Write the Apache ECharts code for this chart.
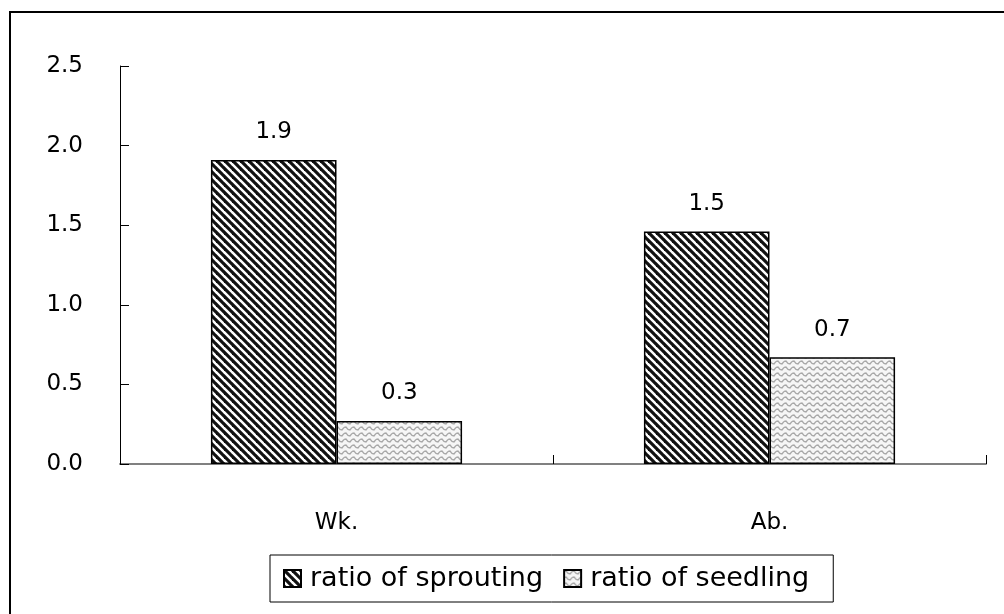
<!DOCTYPE html>
<html>
<head>
<meta charset="utf-8">
<script src="https://cdn.jsdelivr.net/npm/echarts@6/dist/echarts.min.js"></script>
<style>
html,body{margin:0;padding:0;background:#fff;}
#chart{width:1004px;height:614px;}
</style>
</head>
<body>
<div id="chart"></div>
<script>
const categories = ['Wk.', 'Ab.'];
const seriesNames = ['ratio of sprouting', 'ratio of seedling'];
const sprouting = [1.91, 1.46];
const seedling = [0.27, 0.67];
const yTicks = [0, 0.5, 1.0, 1.5, 2.0, 2.5];

function stripeTile() {
  const s = 8;
  const c = document.createElement('canvas');
  c.width = s; c.height = s;
  const g = c.getContext('2d');
  g.fillStyle = '#ffffff';
  g.fillRect(0, 0, s, s);
  g.strokeStyle = '#111111';
  g.lineWidth = 3.2;
  for (const off of [-s, 0, s]) {
    g.beginPath();
    g.moveTo(off - 2, -2);
    g.lineTo(off + s + 2, s + 2);
    g.stroke();
  }
  return c;
}
function waveTile() {
  const w = 8, h = 6;
  const c = document.createElement('canvas');
  c.width = w; c.height = h;
  const g = c.getContext('2d');
  g.fillStyle = '#f6f6f6';
  g.fillRect(0, 0, w, h);
  g.strokeStyle = '#a8a8a8';
  g.lineWidth = 1.3;
  g.beginPath();
  g.moveTo(0, 1.5);
  g.lineTo(2, 1);
  g.lineTo(4, 3.5);
  g.lineTo(6, 4);
  g.lineTo(8, 1.5);
  g.stroke();
  return c;
}

const chart = echarts.init(document.getElementById('chart'), null, {renderer: 'canvas'});
const FONT = '"DejaVu Sans", "Liberation Sans", sans-serif';
const fmt = p => Number(p.value).toFixed(1);

chart.setOption({
  animation: false,
  backgroundColor: '#ffffff',
  textStyle: {fontFamily: FONT},
  graphic: [{
    type: 'rect',
    shape: {x: 10, y: 12, width: 1200, height: 800},
    style: {fill: 'none', stroke: '#000', lineWidth: 2},
    silent: true, z: -1
  }],
  grid: {left: 120, right: 18, top: 66, bottom: 150},
  legend: {
    data: seriesNames,
    left: 270, top: 555,
    padding: [10, 24, 10, 13],
    borderColor: '#000', borderWidth: 1,
    itemWidth: 17, itemHeight: 17, itemGap: 20,
    icon: 'rect',
    textStyle: {fontSize: 27, color: '#000', fontFamily: FONT, padding: [0, 0, 0, 4]}
  },
  xAxis: {
    type: 'category',
    data: categories,
    axisLine: {lineStyle: {color: '#808080', width: 2}},
    axisTick: {show: true, inside: true, length: 9, lineStyle: {color: '#000', width: 1}},
    axisLabel: {fontSize: 23, color: '#000', margin: 48, fontFamily: FONT},
    splitLine: {show: false}
  },
  yAxis: {
    type: 'value',
    min: 0, max: 2.5, interval: 0.5,
    axisLine: {show: true, lineStyle: {color: '#000', width: 1}},
    axisTick: {show: true, inside: true, length: 9, lineStyle: {color: '#000'}},
    axisLabel: {fontSize: 23, color: '#000', margin: 37, fontFamily: FONT,
      formatter: v => yTicks.includes(v) ? v.toFixed(1) : ''},
    splitLine: {show: false}
  },
  series: [{
    name: seriesNames[0],
    type: 'bar',
    data: sprouting,
    barGap: '0%',
    barCategoryGap: '42%',
    itemStyle: {color: {image: stripeTile(), repeat: 'repeat'}, borderColor: '#000', borderWidth: 1.5},
    label: {show: true, position: 'top', distance: 16, fontSize: 23, color: '#000', fontFamily: FONT, formatter: fmt}
  }, {
    name: seriesNames[1],
    type: 'bar',
    data: seedling,
    itemStyle: {color: {image: waveTile(), repeat: 'repeat'}, borderColor: '#000', borderWidth: 1.5},
    label: {show: true, position: 'top', distance: 16, fontSize: 23, color: '#000', fontFamily: FONT, formatter: fmt}
  }]
});
</script>
</body>
</html>
